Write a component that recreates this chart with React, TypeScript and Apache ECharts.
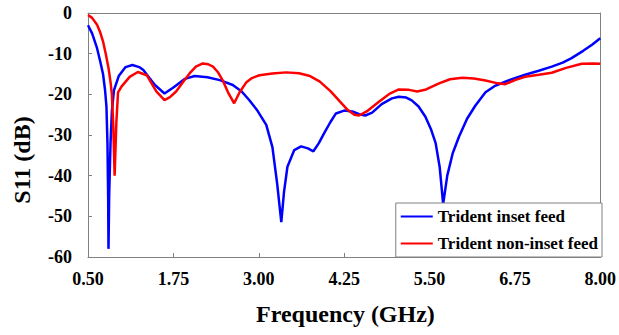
import React, { useEffect, useRef } from "react";
import * as echarts from "echarts";

const xTicks = [0.5, 1.75, 3.0, 4.25, 5.5, 6.75, 8.0];
const yTicks = [0, -10, -20, -30, -40, -50, -60];

const insetFreq = [
  0.5, 0.56, 0.63, 0.68, 0.72, 0.75, 0.77, 0.785, 0.795, 0.8, 0.81, 0.83, 0.85, 0.88, 0.95, 1.05, 1.15, 1.25, 1.31,
  1.4, 1.48, 1.62, 1.75, 1.92, 2.06, 2.25, 2.43, 2.62, 2.75, 2.86, 2.98, 3.11, 3.2, 3.27, 3.33, 3.37, 3.42, 3.52,
  3.62, 3.72, 3.8, 3.88, 3.96, 4.05, 4.13, 4.25, 4.37, 4.47, 4.56, 4.66, 4.8, 4.95, 5.05, 5.16, 5.24, 5.34, 5.44,
  5.52, 5.59, 5.65, 5.7, 5.76, 5.84, 5.93, 6.05, 6.17, 6.32, 6.45, 6.61, 6.75, 6.9, 7.1, 7.29, 7.45, 7.58, 7.75,
  7.88, 8.0,
];
const insetS11 = [
  -3, -5, -8.5, -12, -15, -19, -23, -32, -45, -58, -45, -32, -24, -19, -15.5, -13.3, -12.8, -13.3, -14,
  -16, -17.7, -19.8, -18.3, -16.2, -15.5, -15.8, -16.5, -17.7, -19.3, -21.4, -24, -27.5, -33, -42, -51.4, -44, -37.8, -33.7,
  -32.8, -33.3, -34, -32, -29.5, -26.8, -24.7, -24, -24.2, -24.9, -25.2, -24.5, -22.4, -21, -20.6, -20.8, -21.5, -23, -25.5,
  -28.5, -32, -38, -47, -40, -34.5, -30.5, -26, -22.8, -19.5, -18, -16.9, -16, -15.2, -14.2, -13.2, -12.2, -11.1, -9.3,
  -7.8, -6.2,
];

const nonInsetFreq = [
  0.5, 0.56, 0.63, 0.68, 0.72, 0.76, 0.8, 0.83, 0.85, 0.87, 0.89, 0.915, 0.94, 0.99, 1.11, 1.23, 1.36, 1.5, 1.62,
  1.7, 1.79, 1.9, 1.99, 2.08, 2.18, 2.26, 2.33, 2.4, 2.47, 2.55, 2.64, 2.72, 2.82, 2.9, 3.01, 3.2, 3.4, 3.59, 3.75,
  3.89, 4.05, 4.18, 4.3, 4.4, 4.47, 4.58, 4.76, 4.92, 5.05, 5.2, 5.32, 5.45, 5.64, 5.8, 5.98, 6.15, 6.32, 6.5, 6.61,
  6.75, 6.9, 7.1, 7.29, 7.5, 7.73, 7.9, 8.0,
];
const nonInsetS11 = [
  -0.5, -1.2, -2.8, -4.8, -7, -10, -13.5, -17, -20, -28, -40, -27, -19.5, -18.1, -15.7, -14.5, -15.3, -19.3, -21.4,
  -20.7, -19.3, -16.8, -14.8, -13.2, -12.4, -12.6, -13.2, -14.5, -16.5, -19.5, -22.2, -19.5, -17, -16, -15.3, -14.9, -14.6, -14.8, -15.5,
  -16.8, -19.2, -21.6, -23.8, -25, -25.2, -24.2, -21.8, -19.8, -18.8, -18.9, -19.3, -18.8, -17.3, -16.3, -15.9, -16.1, -16.6, -17.3, -17.5,
  -16.5, -15.7, -15.2, -14.7, -13.5, -12.5, -12.4, -12.5,
];

const seriesNames = ["Trident inset feed", "Trident non-inset feed"];
const xAxisTitle = "Frequency (GHz)";
const yAxisTitle = "S11 (dB)";

const FONT = "Liberation Serif";
const AXIS_GRAY = "#808080";

export default function App() {
  const ref = useRef<HTMLDivElement>(null);
  useEffect(() => {
    if (!ref.current) return;
    const chart = echarts.init(ref.current, undefined, { renderer: "svg" });
    const zip = (xs: number[], ys: number[]) => xs.map((x, i) => [x, ys[i]]);
    const boxAxisLine = { show: true, onZero: false, lineStyle: { color: AXIS_GRAY, width: 1 } };
    chart.setOption({
      animation: false,
      textStyle: { fontFamily: FONT },
      grid: { left: 88, right: 17, top: 13, bottom: 78 },
      title: {
        text: xAxisTitle,
        left: 256,
        top: 302,
        padding: 0,
        textStyle: { fontFamily: FONT, fontWeight: "bold", fontSize: 24, color: "#000" },
      },
      graphic: [
        {
          type: "text",
          x: 22,
          y: 160,
          rotation: Math.PI / 2,
          style: {
            text: yAxisTitle,
            font: "bold 24px 'Liberation Serif'",
            fill: "#000",
            align: "center",
            verticalAlign: "middle",
          },
        },
      ],
      legend: {
        orient: "vertical",
        right: 17,
        bottom: 78,
        padding: [5, 4, 5, 4],
        itemGap: 10,
        itemWidth: 32,
        itemHeight: 14,
        backgroundColor: "#ffffff",
        borderColor: AXIS_GRAY,
        borderWidth: 1,
        borderRadius: 0,
        itemStyle: { opacity: 0 },
        textStyle: { fontFamily: FONT, fontWeight: "bold", fontSize: 17, color: "#000" },
        data: seriesNames,
      },
      xAxis: [
        {
          type: "value",
          min: xTicks[0],
          max: xTicks[xTicks.length - 1],
          interval: 1.25,
          axisLine: boxAxisLine,
          axisTick: { show: true, inside: true, length: 4, lineStyle: { color: AXIS_GRAY } },
          axisLabel: {
            fontFamily: FONT,
            fontWeight: "bold",
            fontSize: 18,
            color: "#000",
            margin: 13,
            formatter: (v: number) => v.toFixed(2),
          },
          splitLine: { show: false },
        },
        {
          type: "value",
          position: "top",
          min: xTicks[0],
          max: xTicks[xTicks.length - 1],
          interval: 1.25,
          axisLine: boxAxisLine,
          axisTick: { show: false },
          axisLabel: { show: false },
          splitLine: { show: false },
        },
      ],
      yAxis: [
        {
          type: "value",
          min: yTicks[yTicks.length - 1],
          max: yTicks[0],
          interval: 10,
          axisLine: boxAxisLine,
          axisTick: { show: true, inside: true, length: 4, lineStyle: { color: AXIS_GRAY } },
          axisLabel: { fontFamily: FONT, fontWeight: "bold", fontSize: 18, color: "#000", margin: 16 },
          splitLine: { show: false },
        },
        {
          type: "value",
          position: "right",
          min: yTicks[yTicks.length - 1],
          max: yTicks[0],
          interval: 10,
          axisLine: boxAxisLine,
          axisTick: { show: false },
          axisLabel: { show: false },
          splitLine: { show: false },
        },
      ],
      series: [
        {
          name: seriesNames[0],
          type: "line",
          data: zip(insetFreq, insetS11),
          symbol: "none",
          lineStyle: { color: "#0000ff", width: 2.5 },
          itemStyle: { color: "#0000ff" },
          z: 2,
        },
        {
          name: seriesNames[1],
          type: "line",
          data: zip(nonInsetFreq, nonInsetS11),
          symbol: "none",
          lineStyle: { color: "#ff0000", width: 2.5 },
          itemStyle: { color: "#ff0000" },
          z: 3,
        },
      ],
    });
    return () => chart.dispose();
  }, []);
  return <div ref={ref} style={{ position: "absolute", left: 0, top: 0, width: 619, height: 335 }} />;
}
